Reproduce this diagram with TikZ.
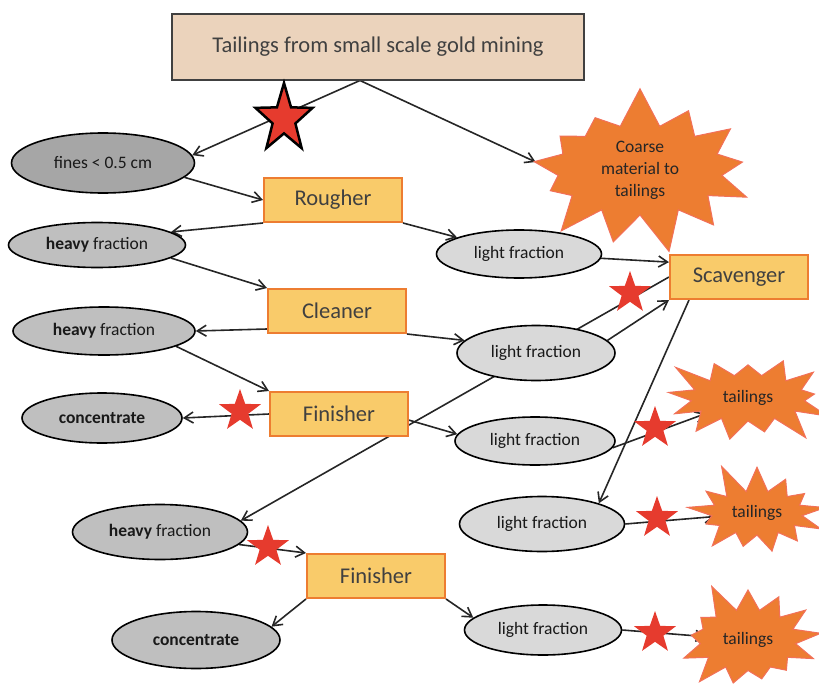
\documentclass[tikz,border=0pt]{standalone}
\usepackage{fontspec}
\setmainfont{Carlito}
\usepackage{xcolor}
\definecolor{cBox}{HTML}{F9CB6A}
\definecolor{cBoxLine}{HTML}{ED7D31}
\definecolor{cFeed}{HTML}{EBD3BC}
\definecolor{cText}{HTML}{404040}
\definecolor{cFines}{HTML}{A6A6A6}
\definecolor{cHeavy}{HTML}{BFBFBF}
\definecolor{cLight}{HTML}{D9D9D9}
\definecolor{cTail}{HTML}{ED7D31}
\definecolor{cTailLine}{HTML}{F2705A}
\definecolor{cStar}{HTML}{E63B2E}
\definecolor{cArrow}{HTML}{262626}
\usepackage{tikz}
\usetikzlibrary{positioning,arrows.meta,shapes.geometric,shapes.symbols,backgrounds}
\tikzset{
  node-feed/.style={draw=cText,line width=2pt,fill=cFeed,minimum width=412pt,
    minimum height=65pt,font=\fontsize{22.5}{27}\selectfont,text=cText},
  node-box/.style={draw=cBoxLine,line width=2pt,fill=cBox,minimum width=138pt,
    minimum height=44pt,font=\fontsize{22.5}{27}\selectfont,text=cText},
  node-oval/.style={ellipse,draw=black,line width=1.6pt,inner sep=0pt,
    text=black!90,font=\fontsize{17.5}{21}\selectfont},
  node-fines/.style={node-oval,fill=cFines},
  node-heavy/.style={node-oval,fill=cHeavy},
  node-light/.style={node-oval,fill=cLight},
  node-tail/.style={starburst,starburst points=13,starburst point height=32pt,
    draw=cTailLine,line width=1pt,fill=cTail,align=center,inner sep=2pt,
    text=black!85,font=\fontsize{17.5}{22}\selectfont},
  node-star/.style={star,star points=5,star point ratio=2.5,fill=cStar,
    inner sep=0pt,minimum size=44pt},
  arrow/.style={-{Straight Barb[length=9pt,width=11pt]},line width=1.6pt,draw=cArrow},
}

\begin{document}
\begin{tikzpicture}[x=1pt,y=-1pt]
  \useasboundingbox (0,0) rectangle (819,693);
  % feed
  \node[node-feed] (feed) at (378,47) {Tailings from small scale gold mining};
  \node[node-tail,minimum width=245pt,minimum height=170pt,starburst point height=40pt,
    random starburst=7] (coarse) at (640,170) {Coarse\\material to\\tailings};
  \node[node-fines,minimum width=183pt,minimum height=60pt] (fines) at (103,163) {fines < 0.5 cm};
  % rougher / cleaner / finisher
  \node[node-box] (rough) at (333,200) {Rougher};
  \node[node-heavy,minimum width=177pt,minimum height=45pt] (heavy1) at (97,245) {\textbf{heavy} fraction};
  \node[node-light,minimum width=165pt,minimum height=48pt] (light1) at (519,254) {light fraction};
  \node[node-box] (clean) at (337,311) {Cleaner};
  \node[node-heavy,minimum width=182pt,minimum height=48pt] (heavy2) at (104,331) {\textbf{heavy} fraction};
  \node[node-light,minimum width=158pt,minimum height=55pt] (light2) at (536,353) {light fraction};
  \node[node-box] (fin1) at (339,414) {Finisher};
  \node[node-heavy,minimum width=160pt,minimum height=50pt] (conc1) at (102,418) {\textbf{concentrate}};
  \node[node-light,minimum width=160pt,minimum height=48pt] (light3) at (535,441) {light fraction};
  % scavenger
  \node[node-box] (scav) at (739,277) {Scavenger};
  \node[node-tail,minimum width=178pt,minimum height=110pt,random starburst=3] (tail1) at (748,398) {tailings};
  \node[node-light,minimum width=165pt,minimum height=55pt] (light4) at (542,524) {light fraction};
  \node[node-tail,minimum width=155pt,minimum height=108pt,random starburst=11] (tail2) at (757,513) {tailings};
  % second finisher
  \node[node-heavy,minimum width=175pt,minimum height=55pt] (heavy3) at (160,532) {\textbf{heavy} fraction};
  \node[node-box] (fin2) at (376,576) {Finisher};
  \node[node-heavy,minimum width=168pt,minimum height=57pt] (conc2) at (196,640) {\textbf{concentrate}};
  \node[node-light,minimum width=157pt,minimum height=50pt] (light5) at (543,630) {light fraction};
  \node[node-tail,minimum width=160pt,minimum height=125pt,random starburst=5] (tail3) at (748,640) {tailings};

  \begin{scope}[on background layer]
    \draw[arrow] ([xshift=-18pt]feed.south) -- (fines.5);
    \draw[arrow] ([xshift=-18pt]feed.south) -- ([xshift=-12pt,yshift=8pt]coarse.west);
    \draw[arrow] (fines.-10) -- (rough.west);
    \draw[arrow] (rough.south west) -- (heavy1.10);
    \draw[arrow] (rough.south east) -- (light1.165);
    \draw[arrow] (heavy1.-10) -- (clean.north west);
    \draw[arrow] ([yshift=5pt]clean.south west) -- (heavy2.east);
    \draw[arrow] (clean.south east) -- (light2.170);
    \draw[arrow] (heavy2.-12) -- (fin1.north west);
    \draw[arrow] (fin1.west) -- (conc1.east);
    \draw[arrow] (fin1.-5) -- (light3.175);
    \draw[arrow] (light1.-3) -- (scav.168);
    \draw[arrow] (light2.10) -- (scav.south west);
    \draw[arrow] (scav.west) -- (heavy3.8);
    \draw[arrow] ([xshift=20pt]scav.south west) -- (light4.20);
    \draw[arrow,shorten >=45pt] (light3.-5) -- (tail1.center);
    \draw[arrow,shorten >=42pt] (light4.east) -- (tail2.center);
    \draw[arrow,shorten >=42pt] (light5.east) -- (tail3.center);
    \draw[arrow] (heavy3.-9) -- (fin2.north west);
    \draw[arrow] (fin2.south west) -- (conc2.10);
    \draw[arrow] (fin2.south east) -- (light5.170);
  \end{scope}

  % marks
  \begin{scope}[shift={(284,119)},yscale=1.2]
    \node[node-star,minimum size=60pt,draw=black,line width=2.5pt,transform shape] (s1) at (0,0) {};
  \end{scope}
  \node[node-star] (s2) at (240,411) {};
  \node[node-star] (s3) at (630,293) {};
  \node[node-star] (s4) at (655,428) {};
  \node[node-star] (s5) at (657,518) {};
  \node[node-star] (s6) at (655,633) {};
  \node[node-star] (s7) at (268,547) {};
\end{tikzpicture}
\end{document}
